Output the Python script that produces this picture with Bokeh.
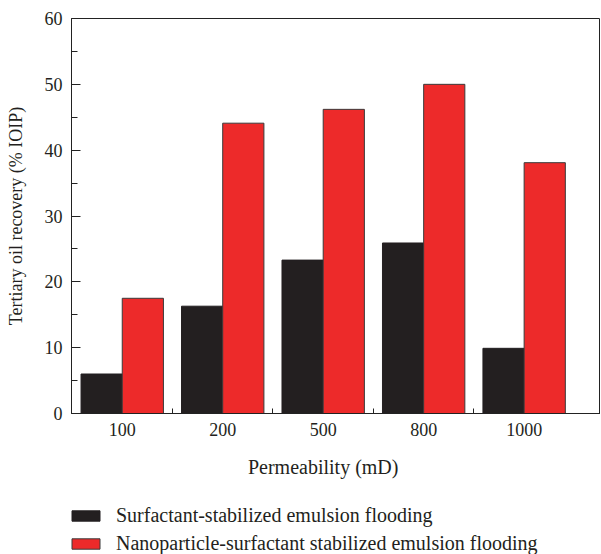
from bokeh.plotting import figure
from bokeh.models import (ColumnDataSource, Range1d, FixedTicker, Legend, LegendItem, Label)
from bokeh.layouts import column
from bokeh.transform import dodge
from bokeh.embed import file_html
from bokeh.resources import INLINE

categories = ["100", "200", "500", "800", "1000"]
surfactant = [6.0, 16.3, 23.3, 25.9, 9.9]
nanoparticle = [17.5, 44.1, 46.2, 50.0, 38.1]
y_ticks = [0, 10, 20, 30, 40, 50, 60]
y_minor = [5, 15, 25, 35, 45, 55]
series_names = ["Surfactant-stabilized emulsion flooding",
                "Nanoparticle-surfactant stabilized emulsion flooding"]
x_title = "Permeability (mD)"
y_title = "Tertiary oil recovery (% IOIP)"

FONT = "Liberation Serif"
TXT = "#231f20"
BLACK = "#231f20"
RED = "#ed2a2a"
RED_EDGE = "#3a3a3a"

xs = list(range(len(categories)))
src = ColumnDataSource(dict(x=xs, s=surfactant, n=nanoparticle))
x_range = Range1d(-0.505, 4.76)

p = figure(frame_width=529, frame_height=395, output_backend="svg", toolbar_location=None,
           x_range=x_range, y_range=Range1d(0, 60),
           min_border_left=71, min_border_top=18, min_border_right=0, min_border_bottom=32)
p.background_fill_color = "white"
p.border_fill_color = "white"
p.outline_line_color = "#222222"
p.outline_line_width = 1
p.xgrid.visible = False
p.ygrid.visible = False

p.vbar(x=dodge("x", -0.205, range=x_range), top="s", width=0.41, source=src,
       fill_color=BLACK, line_color=BLACK, line_width=1)
p.vbar(x=dodge("x", 0.205, range=x_range), top="n", width=0.41, source=src,
       fill_color=RED, line_color=RED_EDGE, line_width=1)

# x axis
xa = p.xaxis[0]
xa.ticker = FixedTicker(ticks=xs, minor_ticks=[i + 0.5 for i in xs[:-1]])
xa.major_label_overrides = {i: c for i, c in zip(xs, categories)}
xa.major_tick_in = 0
xa.major_tick_out = 0
xa.minor_tick_in = 5
xa.minor_tick_out = 0
xa.minor_tick_line_color = "#222222"
xa.axis_line_color = "#222222"
xa.major_label_text_font = FONT
xa.major_label_text_font_size = "18px"
xa.major_label_text_color = TXT
xa.major_label_standoff = 9

# y axis
ya = p.yaxis[0]
ya.ticker = FixedTicker(ticks=y_ticks, minor_ticks=y_minor)
ya.major_tick_in = 9
ya.major_tick_out = 0
ya.minor_tick_in = 6
ya.minor_tick_out = 0
ya.major_tick_line_color = "#222222"
ya.minor_tick_line_color = "#222222"
ya.axis_line_color = "#222222"
ya.major_label_text_font = FONT
ya.major_label_text_font_size = "18px"
ya.major_label_text_color = TXT
ya.major_label_standoff = 9
ya.axis_label = y_title
ya.axis_label_text_font = FONT
ya.axis_label_text_font_size = "18px"
ya.axis_label_text_font_style = "normal"
ya.axis_label_text_color = TXT
ya.axis_label_standoff = 16

# strip below the chart: x-axis title and legend (pixel-unit y range)
q = figure(width=600, height=109, output_backend="svg", toolbar_location=None,
           x_range=x_range, y_range=Range1d(0, 109),
           x_axis_location=None, y_axis_location=None,
           min_border_left=71, min_border_right=0, min_border_top=0, min_border_bottom=0)
q.grid.visible = False
q.outline_line_color = None
q.background_fill_color = "white"
q.border_fill_color = "white"

q.add_layout(Label(x=2, y=88, x_units="data", y_units="data", text=x_title,
                   text_align="center", text_baseline="alphabetic", text_font=FONT,
                   text_font_size="20px", text_color=TXT))

e1 = q.vbar(x="x", top="s", width=0.41, source=src, fill_color=BLACK,
            line_color=BLACK, line_width=1, visible=False)
e2 = q.vbar(x="x", top="n", width=0.41, source=src, fill_color=RED,
            line_color=RED_EDGE, line_width=1, visible=False)

legend = Legend(items=[LegendItem(label=series_names[0], renderers=[e1]),
                       LegendItem(label=series_names[1], renderers=[e2])],
                location=(-3, -1), orientation="vertical")
legend.label_text_font = FONT
legend.label_text_font_size = "20px"
legend.label_text_color = TXT
legend.glyph_width = 35
legend.glyph_height = 13
legend.spacing = 5
legend.padding = 0
legend.border_line_color = None
legend.background_fill_alpha = 0
legend.inactive_fill_alpha = 0
legend.label_standoff = 13
legend.label_height = 21
legend.margin = 0
q.add_layout(legend, "center")

layout = column(p, q, spacing=0)
open("out.html", "w").write(file_html(layout, INLINE))
